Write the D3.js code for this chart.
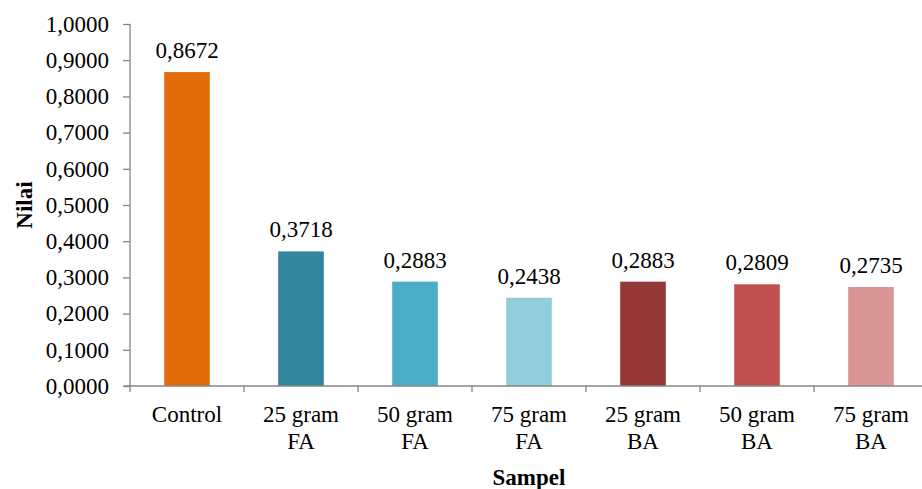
<!DOCTYPE html>
<html><head><meta charset="utf-8">
<script src="https://cdn.jsdelivr.net/npm/d3@7"></script>
<style>body{margin:0;background:#fff}svg{display:block}</style>
</head><body>
<svg id="c" width="922" height="489"></svg>
<script>
const categories = [["Control"],["25 gram","FA"],["50 gram","FA"],["75 gram","FA"],["25 gram","BA"],["50 gram","BA"],["75 gram","BA"]];
const values = [0.8672,0.3718,0.2883,0.2438,0.2883,0.2809,0.2735];
const colors = ["#E36C0A","#31859C","#4BACC6","#92CDDC","#953735","#C0504D","#D99694"];
const yTicks = [0,0.1,0.2,0.3,0.4,0.5,0.6,0.7,0.8,0.9,1.0];
const xTitle = "Sampel", yTitle = "Nilai";

const FONT = "Liberation Serif";
const svg = d3.select("#c");
const fmt = v => v.toFixed(4).replace(".", ",");
const idx = d3.range(values.length);
const x = d3.scaleBand().domain(idx).range([130, 928]).paddingInner(0.6).paddingOuter(0.3);
const y = d3.scaleLinear().domain([0,1]).range([386, 24]);
const axisColor = "#868686";

// bars
svg.selectAll("rect.bar").data(idx).join("rect")
  .attr("x", i => x(i)).attr("width", x.bandwidth())
  .attr("y", i => y(values[i])).attr("height", i => y(0) - y(values[i]))
  .attr("fill", i => colors[i]);

// value labels
svg.selectAll("text.val").data(idx).join("text")
  .attr("x", i => x(i) + x.bandwidth()/2).attr("y", i => y(values[i]) - 14)
  .attr("text-anchor","middle").attr("fill","#000")
  .style("font-family", FONT).style("font-size","23px")
  .text(i => fmt(values[i]));

// y axis
const yAxis = svg.append("g").attr("transform","translate(130,0)")
  .call(d3.axisLeft(y).tickValues(yTicks).tickSize(7).tickPadding(14).tickFormat(fmt));
yAxis.selectAll("text").attr("fill","#000").style("font-family", FONT).style("font-size","23px");
yAxis.selectAll("line").attr("stroke", axisColor).attr("stroke-width",1.3);
yAxis.select(".domain").attr("stroke", axisColor).attr("stroke-width",1.3).attr("d","M0,24V386");

// x axis line
svg.append("line").attr("x1",124).attr("x2",922).attr("y1",386).attr("y2",386)
  .attr("stroke",axisColor).attr("stroke-width",1.3);
// x ticks at band boundaries
const bounds = d3.range(values.length).map(i => 130 + i * x.step());
svg.selectAll("line.xt").data(bounds).join("line")
  .attr("x1", d => d).attr("x2", d => d).attr("y1",386).attr("y2",392)
  .attr("stroke",axisColor).attr("stroke-width",1.3);

// category labels
const cl = svg.selectAll("text.cat").data(idx).join("text")
  .attr("text-anchor","middle").attr("fill","#000")
  .style("font-family", FONT).style("font-size","23px");
cl.each(function(i){
  const t = d3.select(this);
  categories[i].forEach((line, k) => {
    t.append("tspan").attr("x", x(i) + x.bandwidth()/2).attr("y", 422 + k*27).text(line);
  });
});

// axis titles
svg.append("text").attr("x",529).attr("y",485).attr("text-anchor","middle")
  .style("font-family", FONT).style("font-size","23px").style("font-weight","bold").text(xTitle);
svg.append("text").attr("transform","translate(32,205) rotate(-90)").attr("text-anchor","middle")
  .style("font-family", FONT).style("font-size","23px").style("font-weight","bold").text(yTitle);
</script>
</body></html>
